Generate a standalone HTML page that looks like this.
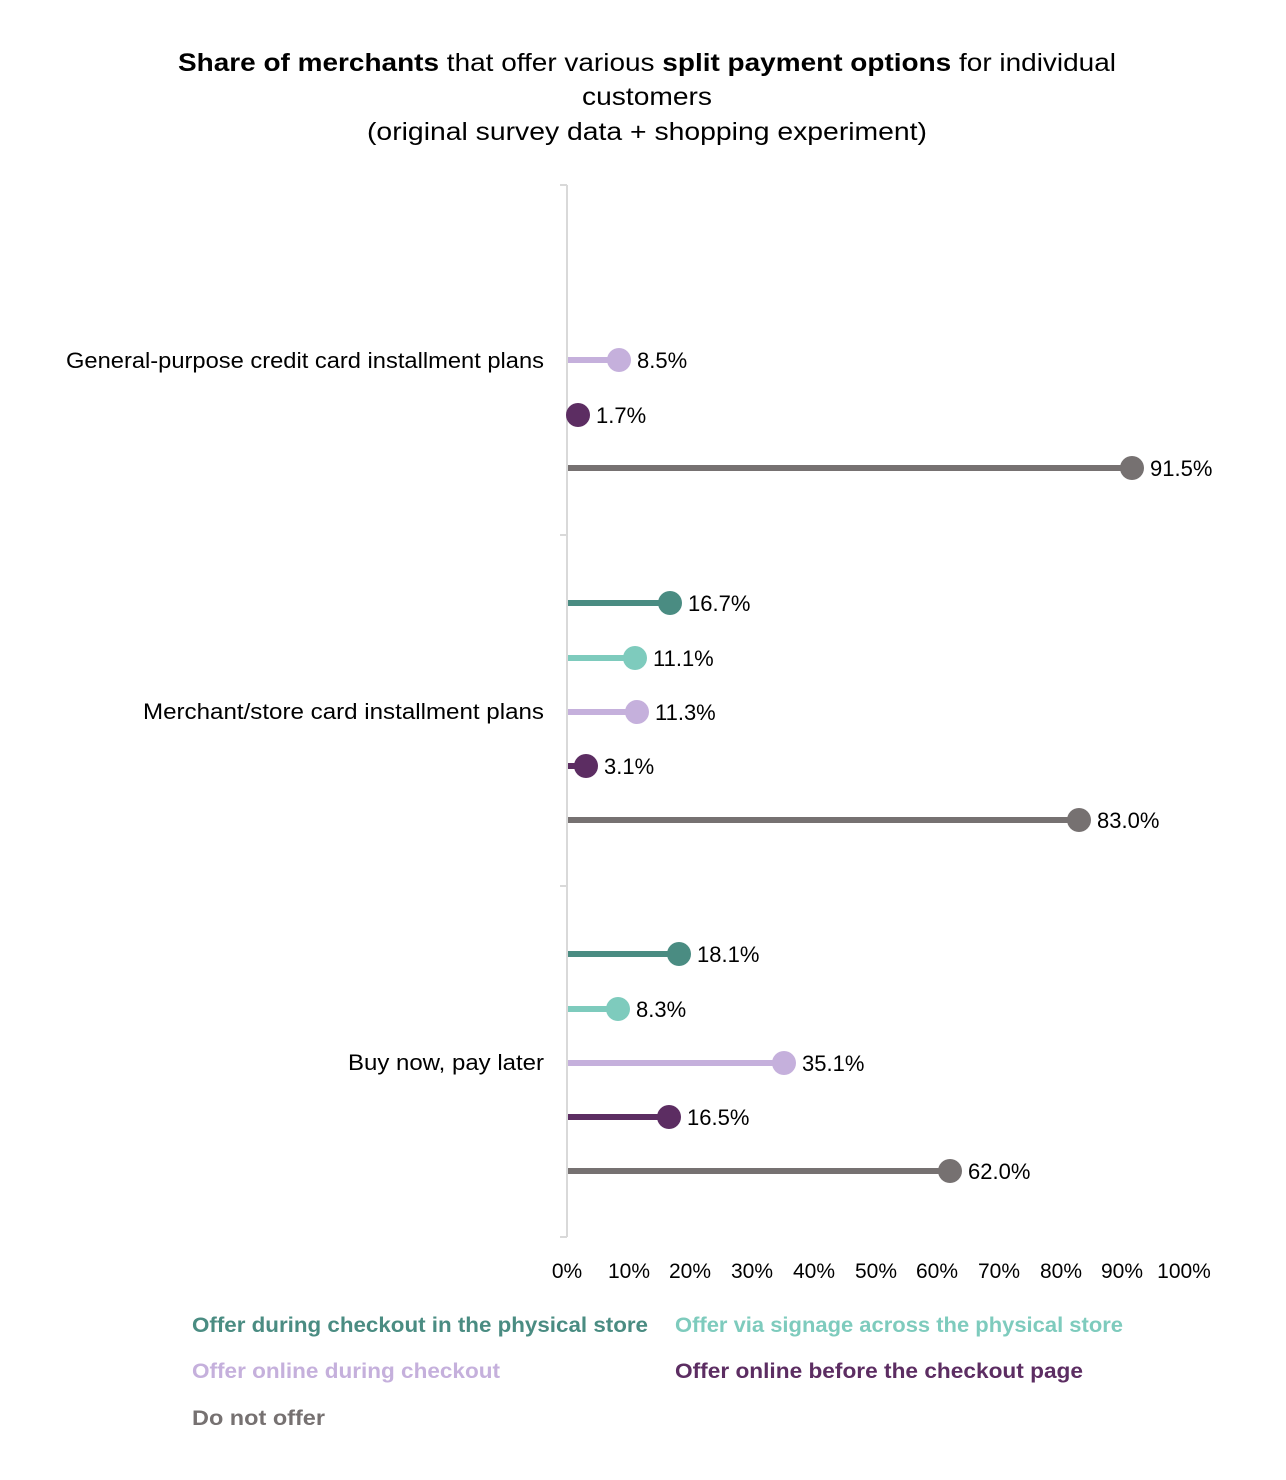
<!DOCTYPE html>
<html><head><meta charset="utf-8"><style>
html,body{margin:0;padding:0;background:#fff;}
svg{display:block;font-family:"Liberation Sans",sans-serif;}
</style></head><body>
<svg width="1286" height="1480" viewBox="0 0 1286 1480" xmlns="http://www.w3.org/2000/svg">
<g font-size="25" fill="#000">
<text x="178" y="71" textLength="938" lengthAdjust="spacingAndGlyphs"><tspan font-weight="bold">Share of merchants</tspan> that offer various  <tspan font-weight="bold">split payment options</tspan> for individual</text>
<text x="582" y="105" textLength="130" lengthAdjust="spacingAndGlyphs">customers</text>
<text x="367" y="140" textLength="560" lengthAdjust="spacingAndGlyphs">(original survey data + shopping experiment)</text>
</g>
<g stroke="#d9d9d9" stroke-width="2">
<line x1="567" y1="185" x2="567" y2="1237"/>
<line x1="560" y1="185" x2="567" y2="185"/>
<line x1="560" y1="535" x2="567" y2="535"/>
<line x1="560" y1="886" x2="567" y2="886"/>
<line x1="560" y1="1237" x2="567" y2="1237"/>
</g>
<g font-size="22" fill="#000">
<text x="66" y="368" textLength="478" lengthAdjust="spacingAndGlyphs">General-purpose credit card installment plans</text>
<text x="143" y="719" textLength="401" lengthAdjust="spacingAndGlyphs">Merchant/store card installment plans</text>
<text x="348" y="1070" textLength="196" lengthAdjust="spacingAndGlyphs">Buy now, pay later</text>
</g>
<g stroke-width="6">
<line x1="568" y1="360" x2="619" y2="360" stroke="#c5b0dc"/><circle cx="619" cy="360" r="12" fill="#c5b0dc"/>
<line x1="568" y1="415" x2="578" y2="415" stroke="#5c2d62"/><circle cx="578" cy="415" r="12" fill="#5c2d62"/>
<line x1="568" y1="468" x2="1132" y2="468" stroke="#767171"/><circle cx="1132" cy="468" r="12" fill="#767171"/>
<line x1="568" y1="603" x2="670" y2="603" stroke="#4a8c82"/><circle cx="670" cy="603" r="12" fill="#4a8c82"/>
<line x1="568" y1="658" x2="635" y2="658" stroke="#7ecbbd"/><circle cx="635" cy="658" r="12" fill="#7ecbbd"/>
<line x1="568" y1="712" x2="637" y2="712" stroke="#c5b0dc"/><circle cx="637" cy="712" r="12" fill="#c5b0dc"/>
<line x1="568" y1="766" x2="586" y2="766" stroke="#5c2d62"/><circle cx="586" cy="766" r="12" fill="#5c2d62"/>
<line x1="568" y1="820" x2="1079" y2="820" stroke="#767171"/><circle cx="1079" cy="820" r="12" fill="#767171"/>
<line x1="568" y1="954" x2="679" y2="954" stroke="#4a8c82"/><circle cx="679" cy="954" r="12" fill="#4a8c82"/>
<line x1="568" y1="1009" x2="618" y2="1009" stroke="#7ecbbd"/><circle cx="618" cy="1009" r="12" fill="#7ecbbd"/>
<line x1="568" y1="1063" x2="784" y2="1063" stroke="#c5b0dc"/><circle cx="784" cy="1063" r="12" fill="#c5b0dc"/>
<line x1="568" y1="1117" x2="669" y2="1117" stroke="#5c2d62"/><circle cx="669" cy="1117" r="12" fill="#5c2d62"/>
<line x1="568" y1="1171" x2="950" y2="1171" stroke="#767171"/><circle cx="950" cy="1171" r="12" fill="#767171"/>
</g>
<g font-size="22" fill="#000">
<text x="637" y="368">8.5%</text>
<text x="596" y="423">1.7%</text>
<text x="1150" y="476">91.5%</text>
<text x="688" y="611">16.7%</text>
<text x="653" y="666">11.1%</text>
<text x="655" y="720">11.3%</text>
<text x="604" y="774">3.1%</text>
<text x="1097" y="828">83.0%</text>
<text x="697" y="962">18.1%</text>
<text x="636" y="1017">8.3%</text>
<text x="802" y="1071">35.1%</text>
<text x="687" y="1125">16.5%</text>
<text x="968" y="1179">62.0%</text>
</g>
<g font-size="21" text-anchor="middle" fill="#000">
<text x="567" y="1278">0%</text><text x="629" y="1278">10%</text><text x="690" y="1278">20%</text><text x="752" y="1278">30%</text><text x="814" y="1278">40%</text><text x="876" y="1278">50%</text><text x="937" y="1278">60%</text><text x="999" y="1278">70%</text><text x="1061" y="1278">80%</text><text x="1122" y="1278">90%</text><text x="1184" y="1278">100%</text>
</g>
<g font-size="21" font-weight="bold">
<text x="192" y="1332" fill="#4a8c82" textLength="456" lengthAdjust="spacingAndGlyphs">Offer during checkout in the physical store</text>
<text x="675" y="1332" fill="#7ecbbd" textLength="448" lengthAdjust="spacingAndGlyphs">Offer via signage across the physical store</text>
<text x="192" y="1378" fill="#c5b0dc" textLength="308" lengthAdjust="spacingAndGlyphs">Offer online during checkout</text>
<text x="675" y="1378" fill="#5c2d62" textLength="408" lengthAdjust="spacingAndGlyphs">Offer online before the checkout page</text>
<text x="192" y="1425" fill="#767171" textLength="133" lengthAdjust="spacingAndGlyphs">Do not offer</text>
</g>
</svg>
</body></html>
